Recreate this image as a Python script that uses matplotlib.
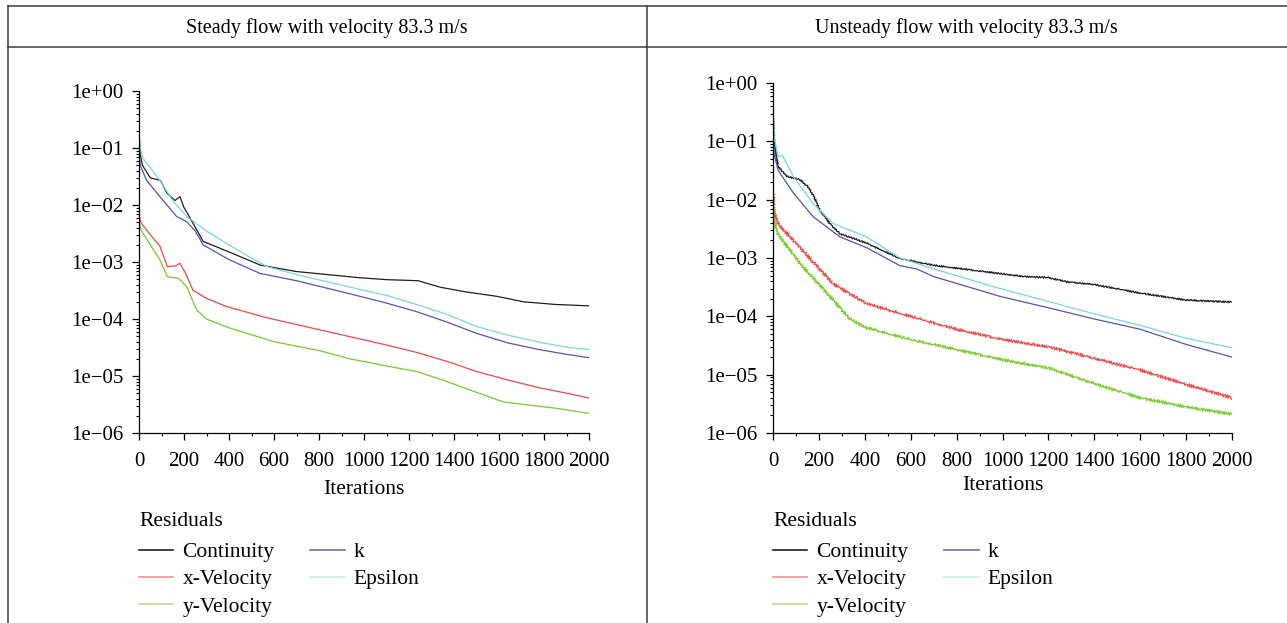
import matplotlib.pyplot as plt
import numpy as np
from matplotlib.lines import Line2D
from matplotlib.ticker import FixedLocator, MultipleLocator, LogLocator, NullFormatter

plt.rcParams['font.family'] = ['Liberation Serif', 'DejaVu Serif']

titles = ['Steady flow with velocity 83.3 m/s', 'Unsteady flow with velocity 83.3 m/s']
names = ['Continuity', 'x-Velocity', 'y-Velocity', 'k', 'Epsilon']
colors = ['#1e1e1e', '#f24646', '#76cc26', '#5252bc', '#74d8e2']
ytick_vals = [1e0, 1e-1, 1e-2, 1e-3, 1e-4, 1e-5, 1e-6]
ytick_labels = ['1e+00', '1e\u221201', '1e\u221202', '1e\u221203', '1e\u221204', '1e\u221205', '1e\u221206']

# steady case residual histories
s_cont_it = [0, 5, 15, 50, 95, 125, 160, 182, 200, 215, 285, 400, 540, 700, 980, 1100, 1240, 1340, 1450, 1590, 1710, 1850, 2000]
s_cont = [0.2, 0.08, 0.05, 0.03, 0.027, 0.016, 0.012, 0.014, 0.009, 0.0072, 0.0023, 0.0015, 0.00088, 0.00068, 0.00053,
          0.00049, 0.00047, 0.00036, 0.0003, 0.00025, 0.0002, 0.00018, 0.00017]
s_xvel_it = [0, 3, 10, 50, 93, 126, 160, 182, 210, 240, 300, 390, 569, 800, 937, 1100, 1233, 1370, 1500, 1640, 1780, 1900, 2000]
s_xvel = [0.012, 0.006, 0.0048, 0.003, 0.0019, 0.00083, 0.00085, 0.00095, 0.0006, 0.00032, 0.00023, 0.000165, 0.000105,
          0.000065, 0.000049, 0.000035, 0.000026, 0.000018, 0.000012, 0.0000085, 0.0000062, 0.000005, 0.0000041]
s_yvel_it = [0, 3, 10, 50, 93, 126, 175, 212, 256, 300, 400, 600, 800, 937, 1100, 1233, 1350, 1470, 1620, 1760, 1860, 2000]
s_yvel = [0.008, 0.0045, 0.0036, 0.002, 0.0011, 0.00055, 0.00052, 0.00037, 0.000145, 0.0001, 0.00007, 0.00004, 0.000028,
          0.00002, 0.000015, 0.000012, 0.0000085, 0.0000057, 0.0000035, 0.000003, 0.0000027, 0.0000022]
s_k_it = [0, 5, 34, 93, 167, 212, 250, 285, 400, 538, 700, 982, 1100, 1233, 1370, 1500, 1640, 1780, 1900, 2000]
s_k = [0.1, 0.05, 0.027, 0.014, 0.0063, 0.0051, 0.0035, 0.002, 0.0011, 0.00063, 0.00047, 0.00025, 0.00019, 0.000135,
       0.000088, 0.000056, 0.000038, 0.000029, 0.000024, 0.000021]
s_eps_it = [0, 5, 18, 50, 93, 150, 212, 300, 390, 480, 569, 700, 982, 1100, 1233, 1370, 1500, 1640, 1780, 1900, 2000]
s_eps = [0.2, 0.1, 0.066, 0.045, 0.027, 0.012, 0.0063, 0.0035, 0.0021, 0.0013, 0.00083, 0.0006, 0.00033, 0.00026,
         0.00018, 0.00012, 0.000074, 0.000052, 0.000039, 0.000032, 0.000029]

# unsteady case residual histories
u_cont_it = [0, 5, 22, 60, 118, 150, 175, 204, 250, 292, 408, 553, 700, 989, 1100, 1200, 1280, 1400, 1600, 1800, 2000]
u_cont = [0.3, 0.1, 0.037, 0.025, 0.022, 0.017, 0.012, 0.0066, 0.0038, 0.0026, 0.0018, 0.00098, 0.00075, 0.00054,
          0.00048, 0.00046, 0.00039, 0.00035, 0.00025, 0.00019, 0.000175]
u_xvel_it = [0, 5, 21, 118, 262, 408, 640, 800, 1000, 1200, 1400, 1600, 1800, 2000]
u_xvel = [0.015, 0.006, 0.0039, 0.0015, 0.00036, 0.000165, 0.00009, 0.00006, 0.00004, 0.00003, 0.000019, 0.000012,
          0.0000068, 0.000004]
u_yvel_it = [0, 5, 21, 118, 262, 335, 400, 600, 800, 1000, 1200, 1400, 1600, 1800, 2000]
u_yvel = [0.01, 0.004, 0.0026, 0.0008, 0.00019, 0.00009, 0.000065, 0.00004, 0.000027, 0.000018, 0.000013, 0.000007,
          0.000004, 0.0000028, 0.0000021]
u_k_it = [0, 5, 22, 89, 175, 292, 408, 553, 626, 700, 989, 1200, 1400, 1600, 1800, 2000]
u_k = [0.15, 0.06, 0.032, 0.013, 0.0051, 0.0023, 0.0015, 0.00074, 0.00065, 0.00048, 0.00022, 0.00014, 0.00009, 0.00006,
       0.000033, 0.00002]
u_eps_it = [0, 5, 22, 40, 89, 175, 262, 408, 553, 700, 989, 1200, 1400, 1600, 1800, 2000]
u_eps = [0.4, 0.12, 0.054, 0.058, 0.025, 0.0085, 0.0039, 0.0023, 0.001, 0.00065, 0.0003, 0.00018, 0.00011, 0.00007,
         0.000042, 0.000029]

steady = [(s_cont_it, s_cont), (s_xvel_it, s_xvel), (s_yvel_it, s_yvel), (s_k_it, s_k), (s_eps_it, s_eps)]
unsteady = [(u_cont_it, u_cont), (u_xvel_it, u_xvel), (u_yvel_it, u_yvel), (u_k_it, u_k), (u_eps_it, u_eps)]

W, H = 1287, 623
fig = plt.figure(figsize=(W / 100, H / 100), dpi=100)

# table frame around the two panels
fc = '#3c3c3c'
def fline(x0, y0, x1, y1):
    fig.add_artist(Line2D([x0 / W, x1 / W], [1 - y0 / H, 1 - y1 / H], color=fc, lw=1.1, transform=fig.transFigure))
fline(8, 6, W, 6)
fline(8, 47, W, 47)
fline(8, 6, 8, H)
fline(646.5, 6, 646.5, H)
fig.text(327 / W, 1 - 28 / H, titles[0], ha='center', va='center', fontsize=14.5)
fig.text(966 / W, 1 - 28 / H, titles[1], ha='center', va='center', fontsize=14.5)

# axes boxes in pixels: left, top, right, bottom
boxes = [(139, 91, 589, 433), (773, 83, 1232, 433)]
legend_pos = [(139, 512), (773, 512)]
label_y = [489, 486]

for i, (box, data) in enumerate(zip(boxes, [steady, unsteady])):
    l, t, r, b = box
    ax = fig.add_axes([l / W, 1 - b / H, (r - l) / W, (b - t) / H])
    for j, ((it, res), name, c) in enumerate(zip(data, names, colors)):
        ln, = ax.plot(it, res, color=c, lw=0.9, label=name)
        if i == 1 and j < 3:
            # unsteady solver residuals oscillate between time steps
            ln.set_sketch_params(scale=1.5 if j else 0.8, length=2.5, randomness=1.5)
    ax.set_yscale('log')
    ax.set_xlim(0, 2000)
    ax.set_ylim(1e-6, 1)
    ax.yaxis.set_major_locator(FixedLocator(ytick_vals))
    ax.set_yticklabels(ytick_labels)
    ax.yaxis.set_minor_locator(LogLocator(base=10, subs=np.arange(2, 10), numticks=20))
    ax.yaxis.set_minor_formatter(NullFormatter())
    ax.xaxis.set_major_locator(MultipleLocator(200))
    ax.xaxis.set_minor_locator(MultipleLocator(100))
    for s in ['top', 'right']:
        ax.spines[s].set_visible(False)
    for s in ['left', 'bottom']:
        ax.spines[s].set_linewidth(0.9)
    ax.tick_params(which='major', direction='out', length=5, width=0.9, labelsize=15, pad=6)
    ax.tick_params(which='minor', direction='out', length=2.5, width=0.8)
    ax.tick_params(axis='x', which='major', pad=9)
    fig.text((l + r) / 2 / W, 1 - label_y[i] / H, 'Iterations', ha='center', va='center', fontsize=15.5)
    lx, ly = legend_pos[i]
    handles, labels = ax.get_legend_handles_labels()
    leg = fig.legend(handles, labels, title='Residuals', loc='upper left',
                     bbox_to_anchor=(lx / W, 1 - ly / H), ncol=2, frameon=False,
                     fontsize=15.5, title_fontsize=15.5, alignment='left',
                     handlelength=1.6, handletextpad=0.42, columnspacing=1.67,
                     labelspacing=0.33, borderpad=0, borderaxespad=0)
    leg._legend_box.sep = 8
    for h, a in zip(leg.legend_handles, [1, 0.6, 0.55, 0.85, 0.4]):
        h.set_sketch_params(None)
        h.set_linewidth(1.2)
        h.set_alpha(a)

fig.savefig('out.png', dpi=100)
